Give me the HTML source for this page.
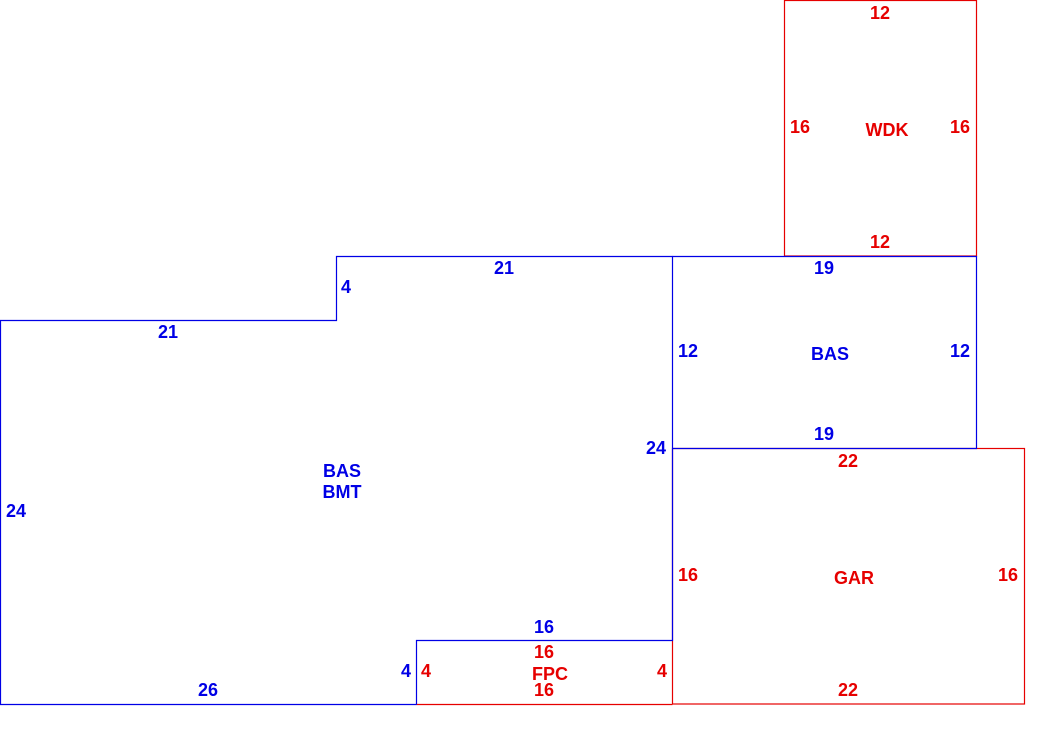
<!DOCTYPE html>
<html><head><style>
html,body{margin:0;padding:0;background:#fff;}
svg{display:block;}
text{font-family:"Liberation Sans",Arial,sans-serif;font-weight:bold;font-size:18px;}
.b{fill:#0000e6;}
.r{fill:#e60000;}
</style></head><body>
<svg width="1040" height="735" viewBox="0 0 1040 735" xmlns="http://www.w3.org/2000/svg">
<g fill="none" stroke-width="1.2">
<rect x="784.5" y="0.5" width="192" height="255.5" stroke="#e60000"/>
<rect x="672.5" y="448.5" width="352" height="255.5" stroke="#e60000"/>
<polyline points="416.5,704.5 672.5,704.5" stroke="#e60000"/>
<polyline points="672.5,256.5 976.5,256.5 976.5,448.5 672.5,448.5" stroke="#0000e6"/>
<polyline points="416.5,704.5 0.5,704.5 0.5,320.5 336.5,320.5 336.5,256.5 672.5,256.5 672.5,640.5 416.5,640.5 416.5,704.5" stroke="#0000e6"/>
</g>
<g text-anchor="middle">
<text class="r" x="880" y="19">12</text>
<text class="r" x="800" y="133">16</text>
<text class="r" x="887" y="136">WDK</text>
<text class="r" x="960" y="133">16</text>
<text class="r" x="880" y="248">12</text>
<text class="b" x="824" y="274">19</text>
<text class="b" x="688" y="357">12</text>
<text class="b" x="830" y="360">BAS</text>
<text class="b" x="960" y="357">12</text>
<text class="b" x="824" y="440">19</text>
<text class="b" x="656" y="454">24</text>
<text class="r" x="848" y="467">22</text>
<text class="r" x="688" y="581">16</text>
<text class="r" x="854" y="584">GAR</text>
<text class="r" x="1008" y="581">16</text>
<text class="r" x="848" y="696">22</text>
<text class="b" x="504" y="274">21</text>
<text class="b" x="346" y="293">4</text>
<text class="b" x="168" y="338">21</text>
<text class="b" x="342" y="477">BAS</text>
<text class="b" x="342" y="498">BMT</text>
<text class="b" x="16" y="517">24</text>
<text class="b" x="544" y="633">16</text>
<text class="r" x="544" y="658">16</text>
<text class="b" x="406" y="677">4</text>
<text class="r" x="426" y="677">4</text>
<text class="r" x="550" y="680">FPC</text>
<text class="r" x="662" y="677">4</text>
<text class="r" x="544" y="696">16</text>
<text class="b" x="208" y="696">26</text>
</g>
</svg>
</body></html>
